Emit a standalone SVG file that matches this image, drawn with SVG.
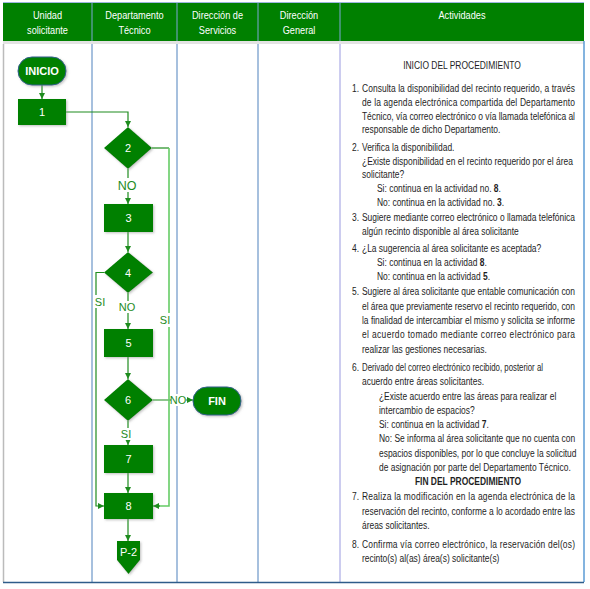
<svg xmlns="http://www.w3.org/2000/svg" width="590" height="589" viewBox="0 0 590 589">
<style>
.hdr{font-family:"Liberation Sans",Arial,sans-serif;font-size:11.5px;fill:#ffffff;text-anchor:middle}
.tx{font-family:"Liberation Sans",Arial,sans-serif;font-size:11.5px;fill:#1e1e1e}
.ctr{text-anchor:middle}
.b{font-weight:bold}
.nd{fill:#008000;filter:url(#sh)}
.term{fill:#008000;stroke:#2f5f8f;stroke-width:1;filter:url(#sh)}
.nt{font-family:"Liberation Sans",Arial,sans-serif;font-size:11px;fill:#ffffff;text-anchor:middle}
.ntb{font-family:"Liberation Sans",Arial,sans-serif;font-size:11px;font-weight:bold;fill:#ffffff;text-anchor:middle}
.cn{stroke:#1e8c1e;stroke-width:1.2;fill:none}
.cnl{stroke:#66cc66;stroke-width:1.6;fill:none}
.lbl{font-family:"Liberation Sans",Arial,sans-serif;font-size:11px;fill:#1e8c1e;text-anchor:middle}
.grid{stroke:#4f81bd;stroke-width:1;fill:none}
</style>
<defs>
<marker id="ah" viewBox="0 0 10 10" refX="10" refY="5" markerWidth="6" markerHeight="6" markerUnits="userSpaceOnUse" orient="auto">
<path d="M0,0 L10,5 L0,10 z" fill="#1e8c1e"/>
</marker>
<filter id="sh" x="-20%" y="-20%" width="140%" height="140%">
<feDropShadow dx="1.2" dy="1.2" stdDeviation="0.8" flood-color="#888888" flood-opacity="0.5"/>
</filter>
</defs>
<rect x="0" y="0" width="590" height="589" fill="#ffffff"/>
<g id="header">
<rect x="3" y="3" width="581" height="38" fill="#008000"/>
<line x1="3" y1="2.5" x2="584" y2="2.5" stroke="#9db7e0" stroke-width="1"/>
<rect x="3" y="41" width="581" height="3" fill="#e3e3e3"/>
<g stroke="#7fa7d6" stroke-width="1">
<line x1="92" y1="3" x2="92" y2="41"/>
<line x1="177" y1="3" x2="177" y2="41"/>
<line x1="258" y1="3" x2="258" y2="41"/>
<line x1="340" y1="3" x2="340" y2="41"/>
</g>
<g transform="scale(0.8,1)">
<text class="hdr" x="59.4" y="19.5">Unidad</text>
<text class="hdr" x="59.4" y="34.5">solicitante</text>
<text class="hdr" x="168.1" y="19.5">Departamento</text>
<text class="hdr" x="168.1" y="34.5">Técnico</text>
<text class="hdr" x="271.9" y="19.5">Dirección de</text>
<text class="hdr" x="271.9" y="34.5">Servicios</text>
<text class="hdr" x="373.8" y="19.5">Dirección</text>
<text class="hdr" x="373.8" y="34.5">General</text>
<text class="hdr" x="577.5" y="19">Actividades</text>
</g>
</g>
<g id="grid">
<line x1="3.5" y1="44" x2="3.5" y2="582" stroke="#bbbbbb" stroke-width="1.5"/>
<line class="grid" x1="92" y1="44" x2="92" y2="582"/>
<line class="grid" x1="177" y1="44" x2="177" y2="582"/>
<line class="grid" x1="258" y1="44" x2="258" y2="582"/>
<line x1="340" y1="44" x2="340" y2="582" stroke="#9a9ae0" stroke-width="1"/>
<line x1="584" y1="41" x2="584" y2="582" stroke="#5b9bd5" stroke-width="1.5"/>
<line x1="3" y1="582.5" x2="584" y2="582.5" stroke="#2e5c8a" stroke-width="1.5"/>
</g>
<g id="connectors">
<path class="cn" d="M42,85 V99" marker-end="url(#ah)"/>
<path class="cn" d="M66,112 H128 V127" marker-end="url(#ah)"/>
<path class="cn" d="M128,169 V204" marker-end="url(#ah)"/>
<path class="cn" d="M128,232 V252" marker-end="url(#ah)"/>
<path class="cn" d="M104,272.5 H96 V506 H104" marker-end="url(#ah)"/>
<path class="cn" d="M128,293 V329" marker-end="url(#ah)"/>
<path class="cn" d="M128,357 V379" marker-end="url(#ah)"/>
<path class="cn" d="M153,400 H193" marker-end="url(#ah)"/>
<path class="cn" d="M128,421 V445" marker-end="url(#ah)"/>
<path class="cn" d="M128,473 V493" marker-end="url(#ah)"/>
<path class="cn" d="M128,519 V541" marker-end="url(#ah)"/>
<path class="cn" d="M152,148 H169"/>
<path class="cnl" d="M169,148 V506 H158"/>
<path class="cn" d="M160,506 H153" marker-end="url(#ah)"/>
<rect x="118" y="178" width="20" height="14" fill="#ffffff"/>
<text class="lbl" x="127" y="190" style="font-size:12.5px">NO</text>
<rect x="93" y="295" width="14" height="13" fill="#ffffff"/>
<text class="lbl" x="100" y="306">SI</text>
<rect x="119" y="301" width="18" height="12" fill="#ffffff"/>
<text class="lbl" x="127" y="311">NO</text>
<rect x="160" y="313" width="14" height="14" fill="#ffffff"/>
<text class="lbl" x="165" y="324">SI</text>
<rect x="171" y="394" width="15" height="12" fill="#ffffff"/>
<text class="lbl" x="178" y="404">NO</text>
<rect x="120" y="428" width="14" height="12" fill="#ffffff"/>
<text class="lbl" x="126" y="438">SI</text>
</g>
<g id="n-inicio">
<rect class="term" x="18" y="57" width="48" height="28" rx="14" ry="14"/>
<text class="ntb" x="42" y="75">INICIO</text>
</g>
<g id="n-1">
<rect class="nd" x="18" y="99" width="48" height="26"/>
<text class="nt" x="42" y="116">1</text>
</g>
<g id="n-2">
<polygon class="nd" points="128,127 152,148 128,169 104,148"/>
<text class="nt" x="128" y="152">2</text>
</g>
<g id="n-3">
<rect class="nd" x="104" y="204" width="49" height="28"/>
<text class="nt" x="128.5" y="222">3</text>
</g>
<g id="n-4">
<polygon class="nd" points="128,252 153,272.5 128,293 104,272.5"/>
<text class="nt" x="128" y="276.5">4</text>
</g>
<g id="n-5">
<rect class="nd" x="104" y="329" width="49" height="28"/>
<text class="nt" x="128.5" y="347">5</text>
</g>
<g id="n-6">
<polygon class="nd" points="128,379 153,400 128,421 104,400"/>
<text class="nt" x="128" y="404">6</text>
</g>
<g id="n-fin">
<rect class="term" x="193" y="387" width="48" height="28" rx="14" ry="14"/>
<text class="ntb" x="217" y="405">FIN</text>
</g>
<g id="n-7">
<rect class="nd" x="104" y="445" width="49" height="28"/>
<text class="nt" x="128.5" y="463">7</text>
</g>
<g id="n-8">
<rect class="nd" x="104" y="493" width="49" height="26"/>
<text class="nt" x="128.5" y="510">8</text>
</g>
<g id="n-p2">
<polygon class="nd" points="117,541 140,541 140,560 128.5,574 117,560"/>
<text class="nt" x="128.5" y="556">P-2</text>
</g>
<g id="actividades" transform="scale(0.735,1)">
<text class="tx ctr" x="628.6" y="69">INICIO DEL PROCEDIMIENTO</text>
<text class="tx" x="478.9" y="92">1.</text>
<text class="tx" x="492.5" y="92" textLength="289.8" lengthAdjust="spacing">Consulta la disponibilidad del recinto requerido, a través</text>
<text class="tx" x="492.5" y="106" textLength="289.8" lengthAdjust="spacing">de la agenda electrónica compartida del Departamento</text>
<text class="tx" x="492.5" y="120" textLength="289.8" lengthAdjust="spacing">Técnico, vía correo electrónico o vía llamada telefónica al</text>
<text class="tx" x="492.5" y="133">responsable de dicho Departamento.</text>
<text class="tx" x="478.9" y="151">2.</text>
<text class="tx" x="492.5" y="151">Verifica la disponibilidad.</text>
<text class="tx" x="492.5" y="165" textLength="287" lengthAdjust="spacing">¿Existe disponibilidad en el recinto requerido por el área</text>
<text class="tx" x="492.5" y="178">solicitante?</text>
<text class="tx" x="512.9" y="192">Si: continua en la actividad no. <tspan class="b">8</tspan>.</text>
<text class="tx" x="512.9" y="206">No: continua en la actividad no. <tspan class="b">3</tspan>.</text>
<text class="tx" x="478.9" y="221">3.</text>
<text class="tx" x="492.5" y="221" textLength="289.8" lengthAdjust="spacing">Sugiere mediante correo electrónico o llamada telefónica</text>
<text class="tx" x="492.5" y="235">algún recinto disponible al área solicitante</text>
<text class="tx" x="478.9" y="252">4.</text>
<text class="tx" x="492.5" y="252">¿La sugerencia al área solicitante es aceptada?</text>
<text class="tx" x="512.9" y="266">Si: continua en la actividad <tspan class="b">8</tspan>.</text>
<text class="tx" x="512.9" y="280">No: continua en la actividad <tspan class="b">5</tspan>.</text>
<text class="tx" x="478.9" y="295">5.</text>
<text class="tx" x="492.5" y="295" textLength="289.8" lengthAdjust="spacing">Sugiere al área solicitante que entable comunicación con</text>
<text class="tx" x="492.5" y="310" textLength="289.8" lengthAdjust="spacing">el área que previamente reservo el recinto requerido, con</text>
<text class="tx" x="492.5" y="324" textLength="289.8" lengthAdjust="spacing">la finalidad de intercambiar el mismo y solicita se informe</text>
<text class="tx" x="492.5" y="338" textLength="289.8" lengthAdjust="spacing">el acuerdo tomado mediante correo electrónico para</text>
<text class="tx" x="492.5" y="353">realizar las gestiones necesarias.</text>
<text class="tx" x="478.9" y="371">6.</text>
<text class="tx" x="492.5" y="371" textLength="246.3" lengthAdjust="spacingAndGlyphs">Derivado del correo electrónico recibido, posterior al</text>
<text class="tx" x="492.5" y="385">acuerdo entre áreas solicitantes.</text>
<text class="tx" x="515.6" y="400">¿Existe acuerdo entre las áreas para realizar el</text>
<text class="tx" x="515.6" y="414">intercambio de espacios?</text>
<text class="tx" x="515.6" y="428">Si: continua en la actividad <tspan class="b">7</tspan>.</text>
<text class="tx" x="515.6" y="442">No: Se informa al área solicitante que no cuenta con</text>
<text class="tx" x="515.6" y="457">espacios disponibles, por lo que concluye la solicitud</text>
<text class="tx" x="515.6" y="471">de asignación por parte del Departamento Técnico.</text>
<text class="tx ctr b" x="636.7" y="485">FIN DEL PROCEDIMIENTO</text>
<text class="tx" x="478.9" y="500">7.</text>
<text class="tx" x="492.5" y="500" textLength="289.8" lengthAdjust="spacing">Realiza la modificación en la agenda electrónica de la</text>
<text class="tx" x="492.5" y="515" textLength="289.8" lengthAdjust="spacing">reservación del recinto, conforme a lo acordado entre las</text>
<text class="tx" x="492.5" y="529">áreas solicitantes.</text>
<text class="tx" x="478.9" y="548">8.</text>
<text class="tx" x="492.5" y="548" textLength="289.8" lengthAdjust="spacing">Confirma vía correo electrónico, la reservación del(os)</text>
<text class="tx" x="492.5" y="562">recinto(s) al(as) área(s) solicitante(s)</text>
</g>
</svg>
